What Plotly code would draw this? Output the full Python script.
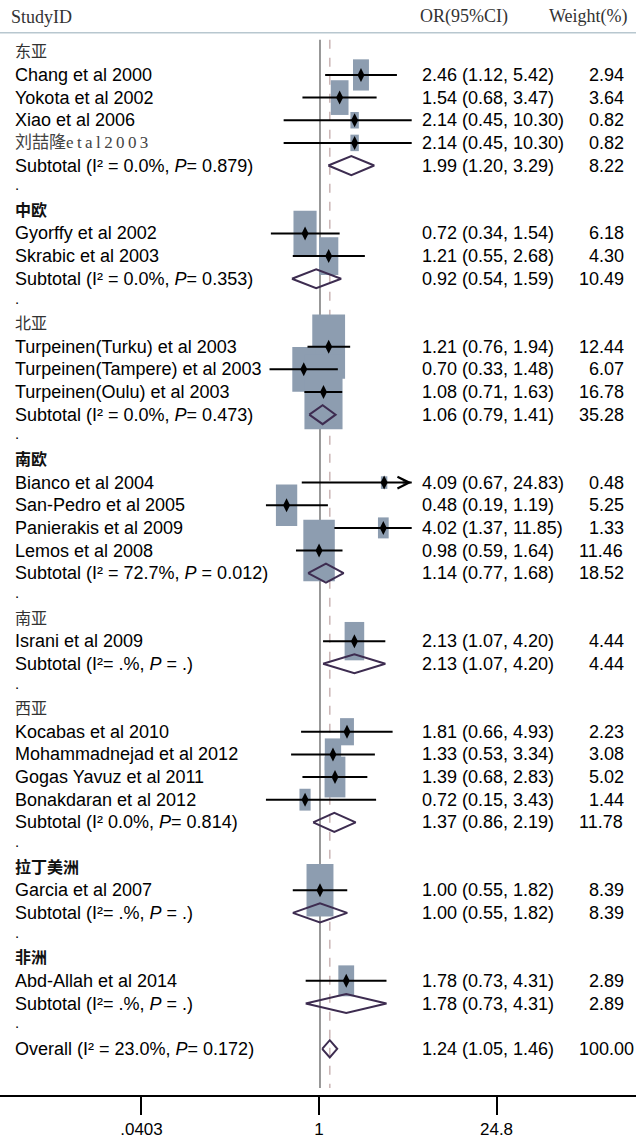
import numpy as np
import plotly.graph_objects as go

# ---------------- data ----------------
regions = ["东亚", "中欧", "北亚", "南欧", "南亚", "西亚", "拉丁美洲", "非洲"]
region_bold = [False, True, False, True, False, False, True, True]

study_names = [
    "Chang et al 2000", "Yokota et al 2002", "Xiao et al 2006",
    "刘喆隆<span style='font-family:Liberation Serif'>e\u2009t\u2009a\u2009l\u20092\u20090\u20090\u20093</span>",
    "Gyorffy et al 2002", "Skrabic et al 2003",
    "Turpeinen(Turku) et al 2003", "Turpeinen(Tampere) et al 2003", "Turpeinen(Oulu) et al 2003",
    "Bianco et al 2004", "San-Pedro et al 2005", "Panierakis et al 2009", "Lemos et al 2008",
    "Israni et al 2009",
    "Kocabas et al 2010", "Mohammadnejad et al 2012", "Gogas Yavuz et al 2011", "Bonakdaran et al 2012",
    "Garcia et al 2007",
    "Abd-Allah et al 2014",
]
study_region = [0, 0, 0, 0, 1, 1, 2, 2, 2, 3, 3, 3, 3, 4, 5, 5, 5, 5, 6, 7]
study_or = [2.46, 1.54, 2.14, 2.14, 0.72, 1.21, 1.21, 0.70, 1.08, 4.09, 0.48, 4.02, 0.98,
            2.13, 1.81, 1.33, 1.39, 0.72, 1.00, 1.78]
study_lo = [1.12, 0.68, 0.45, 0.45, 0.34, 0.55, 0.76, 0.33, 0.71, 0.67, 0.19, 1.37, 0.59,
            1.07, 0.66, 0.53, 0.68, 0.15, 0.55, 0.73]
study_hi = [5.42, 3.47, 10.30, 10.30, 1.54, 2.68, 1.94, 1.48, 1.63, 24.83, 1.19, 11.85, 1.64,
            4.20, 4.93, 3.34, 2.83, 3.43, 1.82, 4.31]
study_wt = [2.94, 3.64, 0.82, 0.82, 6.18, 4.30, 12.44, 6.07, 16.78, 0.48, 5.25, 1.33, 11.46,
            4.44, 2.23, 3.08, 5.02, 1.44, 8.39, 2.89]

sub_het = [
    "(I² = 0.0%, <i>P</i>= 0.879)", "(I² = 0.0%, <i>P</i>= 0.353)", "(I² = 0.0%, <i>P</i>= 0.473)",
    "(I² = 72.7%, <i>P</i> = 0.012)", "(I²= .%, <i>P</i> = .)", "(I² 0.0%, <i>P</i>= 0.814)",
    "(I²= .%, <i>P</i> = .)", "(I²= .%, <i>P</i> = .)",
]
sub_or = [1.99, 0.92, 1.06, 1.14, 2.13, 1.37, 1.00, 1.78]
sub_lo = [1.20, 0.54, 0.79, 0.77, 1.07, 0.86, 0.55, 0.73]
sub_hi = [3.29, 1.59, 1.41, 1.68, 4.20, 2.19, 1.82, 4.31]
sub_wt = [8.22, 10.49, 35.28, 18.52, 4.44, 11.78, 8.39, 2.89]

overall_het = "(I² = 23.0%, <i>P</i>= 0.172)"
overall_or, overall_lo, overall_hi, overall_wt = 1.24, 1.05, 1.46, 100.00

axis_ticks = [0.0403, 1, 24.8]
axis_ticktext = [".0403", "1", "24.8"]

# display window of the confidence-interval lines (as drawn in the reference)
ci_window = (0.305, 7.5)
arrow_limit = 24.8

# ---------------- layout constants ----------------
W, H = 636, 1140
FONT = "Liberation Sans, Arial, sans-serif"
SERIF = "Liberation Serif, Times New Roman, serif"
CJK = "Noto Sans CJK SC, sans-serif"
BOX_COLOR = "#8d9db0"
DIA_COLOR = "#3d2c50"
FS = 18

rows_label, rows_study, rows_sub, rows_dot = [], [], [], []
r = 0
for g in range(len(regions)):
    rows_label.append(r); r += 1
    for i, sr in enumerate(study_region):
        if sr == g:
            rows_study.append(r); r += 1
    rows_sub.append(r); r += 1
    rows_dot.append(r); r += 1
row_overall = r

L = np.log10
fig = go.Figure()
shapes = []
ann = []

# reference lines
for v, col, dash in [(1.0, "#7f7f7f", "solid"), (overall_or, "#cdb8b8", "dash")]:
    shapes.append(dict(type="line", xref="x", yref="y", x0=L(v), x1=L(v), y0=-0.55, y1=45.73,
                       line=dict(color=col, width=1.6, dash=dash), layer="below"))
# header rule
shapes.append(dict(type="line", xref="paper", yref="y", x0=0, x1=1, y0=-0.86, y1=-0.86,
                   line=dict(color="#b8c7cf", width=1.6), layer="below"))
# weight boxes
for o, w, yr in zip(study_or, study_wt, rows_study):
    bw, bh = 9.3 * np.sqrt(w), 18.2 * np.sqrt(w)
    shapes.append(dict(type="rect", xref="x", yref="y", xsizemode="pixel", ysizemode="pixel",
                       xanchor=L(o), yanchor=yr, x0=-bw / 2, x1=bw / 2, y0=-bh / 2, y1=bh / 2,
                       fillcolor=BOX_COLOR, line=dict(width=0), layer="below"))

# CI lines
xs, ys = [], []
for lo, hi, yr in zip(study_lo, study_hi, rows_study):
    a = max(lo, ci_window[0]); b = min(hi, ci_window[1])
    xs += [L(a), L(b), None]; ys += [yr, yr, None]
fig.add_trace(go.Scatter(x=xs, y=ys, mode="lines", line=dict(color="black", width=2),
                         hoverinfo="skip", showlegend=False))
# arrows for CIs beyond the axis
for hi, yr in zip(study_hi, rows_study):
    if hi > arrow_limit:
        ann.append(dict(x=L(ci_window[1]), y=yr, ax=L(ci_window[1]) - 0.1, ay=yr,
                        xref="x", yref="y", axref="x", ayref="y", showarrow=True, text="",
                        arrowhead=5, arrowsize=1.15, arrowwidth=2, arrowcolor="black", standoff=0))
# point estimates
fig.add_trace(go.Scatter(x=L(np.array(study_or)), y=rows_study, mode="markers",
                         marker=dict(symbol="diamond-tall", size=10, color="black"),
                         hoverinfo="skip", showlegend=False))

# diamonds
def diamond(o, lo, hi, yr, hh):
    return [L(lo), L(o), L(hi), L(o), L(lo)], [yr, yr - hh, yr, yr + hh, yr]

dx, dy = [], []
for o, lo, hi, yr in zip(sub_or, sub_lo, sub_hi, rows_sub):
    a, b = diamond(o, lo, hi, yr, 0.42)
    dx += a + [None]; dy += b + [None]
a, b = diamond(overall_or, overall_lo, overall_hi, row_overall, 0.38)
dx += a; dy += b
fig.add_trace(go.Scatter(x=dx, y=dy, mode="lines", line=dict(color=DIA_COLOR, width=2),
                         hoverinfo="skip", showlegend=False))

# dummy trace for the bottom axis
fig.add_trace(go.Scatter(x=[L(axis_ticks[1])], y=[row_overall], xaxis="x2", mode="markers",
                         marker=dict(opacity=0), hoverinfo="skip", showlegend=False))

# ---------------- text ----------------
XL, XOR, XW = 13 / W, 420 / W, 577 / W

def txt(x, y, s, size=FS, family=FONT, color="black", anchor="left"):
    ann.append(dict(x=x, y=y, xref="paper", yref="y", text=s, showarrow=False,
                    xanchor=anchor, yanchor="middle",
                    font=dict(family=family, size=size, color=color)))

def fmt_w(w):
    s = f"{w:.2f}"
    return "\u2007" * max(0, 5 - len(s)) + s

txt(9 / W, -1.56, "StudyID", size=18, family=SERIF, color="#333333")
txt(418 / W, -1.56, "OR(95%CI)", size=18, family=SERIF, color="#333333")
txt(630 / W, -1.56, "Weight(%)", size=18, family=SERIF, color="#333333", anchor="right")

for g, name in enumerate(regions):
    s = f"<b>{name}</b>" if region_bold[g] else name
    txt(XL, rows_label[g] - 0.08, s, size=16, family=CJK,
        color="#111111" if region_bold[g] else "#333333")
    txt(XL, rows_sub[g], "Subtotal " + sub_het[g])
    txt(XOR, rows_sub[g], f"{sub_or[g]:.2f} ({sub_lo[g]:.2f}, {sub_hi[g]:.2f})")
    txt(XW, rows_sub[g], fmt_w(sub_wt[g]))
    txt(XL, rows_dot[g] - 0.15, ".", size=15)

for i, yr in enumerate(rows_study):
    if "span" in study_names[i]:
        txt(XL, yr, study_names[i], size=17, family=SERIF + ", " + CJK, color="#444444")
    else:
        txt(XL, yr, study_names[i])
    txt(XOR, yr, f"{study_or[i]:.2f} ({study_lo[i]:.2f}, {study_hi[i]:.2f})")
    txt(XW, yr, fmt_w(study_wt[i]))

txt(XL, row_overall, "Overall " + overall_het)
txt(XOR, row_overall, f"{overall_or:.2f} ({overall_lo:.2f}, {overall_hi:.2f})")
txt(XW, row_overall, fmt_w(overall_wt))

fig.update_layout(
    width=W, height=H, margin=dict(l=0, r=0, t=0, b=45),
    paper_bgcolor="white", plot_bgcolor="white", showlegend=False,
    shapes=shapes, annotations=ann,
    xaxis=dict(range=[-3.053, 3.015], visible=False, fixedrange=True),
    xaxis2=dict(overlaying="x", anchor="y", side="bottom", range=[-2.506, 2.490],
                tickvals=list(L(np.array(axis_ticks))), ticktext=axis_ticktext,
                ticks="outside", ticklen=18, tickwidth=1.5, tickcolor="black",
                showline=True, linecolor="black", linewidth=1.5, showgrid=False,
                zeroline=False, tickfont=dict(family=FONT, size=17, color="black")),
    yaxis=dict(range=[46.04, -2.309], visible=False, fixedrange=True),
)

fig.write_html("out.html", config={"displayModeBar": False},
               post_script="document.body.style.margin='0';")
